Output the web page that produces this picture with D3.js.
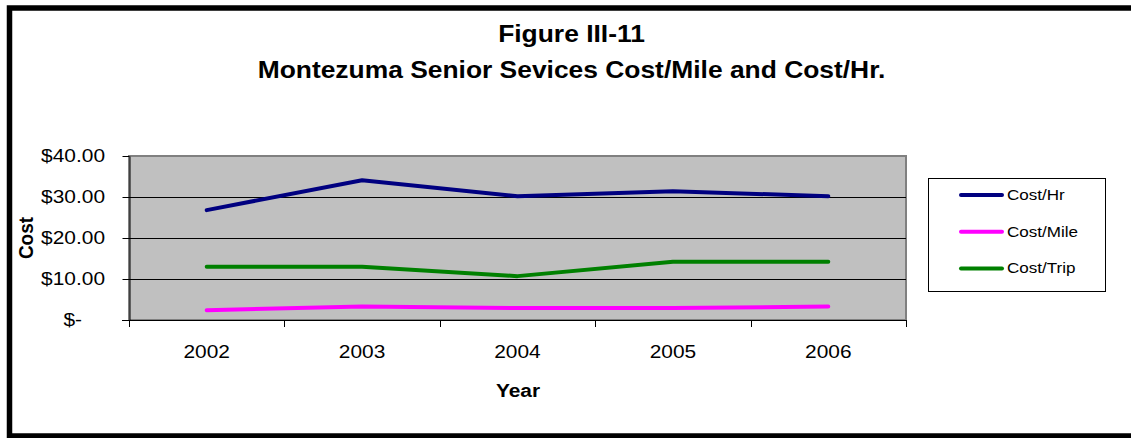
<!DOCTYPE html>
<html>
<head>
<meta charset="utf-8">
<script src="https://cdn.jsdelivr.net/npm/d3@7"></script>
<style>
  html, body { margin: 0; padding: 0; background: #fff; }
  svg { display: block; font-family: Arial, "Liberation Sans", sans-serif; }
</style>
</head>
<body>
<svg id="chart" width="1131" height="438"></svg>
<script>
// Chart data
const years = ["2002", "2003", "2004", "2005", "2006"];
const costPerHour = [26.8, 34.1, 30.2, 31.4, 30.2];
const costPerMile = [2.4, 3.3, 2.9, 2.9, 3.3];
const costPerTrip = [13.0, 13.0, 10.7, 14.2, 14.2];
const yTicks = [0, 10, 20, 30, 40];
const seriesNames = ["Cost/Hr", "Cost/Mile", "Cost/Trip"];
const seriesColors = ["#000080", "#FF00FF", "#008000"];
const titleLines = ["Figure III-11", "Montezuma Senior Sevices Cost/Mile and Cost/Hr."];

const series = [costPerHour, costPerMile, costPerTrip].map((values, i) => ({
  name: seriesNames[i],
  color: seriesColors[i],
  values: values.map((v, j) => ({ year: years[j], value: v }))
}));

const svg = d3.select("#chart");
const STRETCH = 1.1; // text glyphs are drawn slightly wide

// Helper: text placed at (x,y) with a horizontal stretch
function label(parent, x, y, str, opts = {}) {
  const g = parent.append("g")
    .attr("transform", `translate(${x},${y}) scale(${STRETCH},1)` + (opts.rotate ? ` rotate(${opts.rotate})` : ""));
  return g.append("text")
    .attr("text-anchor", opts.anchor || "start")
    .attr("dominant-baseline", opts.baseline || "auto")
    .attr("font-size", opts.size || 19)
    .attr("font-weight", opts.bold ? "bold" : "normal")
    .attr("fill", "#000")
    .text(str);
}

// Outer frame
svg.append("rect")
  .attr("x", 9.5).attr("y", 8)
  .attr("width", 1140).attr("height", 428)
  .attr("fill", "none").attr("stroke", "#000").attr("stroke-width", 5.5);

// Plot area
const plot = { left: 129, top: 156, right: 906, bottom: 320 };

const x = d3.scaleBand().domain(years).range([plot.left, plot.right]).padding(0);
const y = d3.scaleLinear().domain([0, 40]).range([plot.bottom, plot.top]);

svg.append("rect")
  .attr("x", plot.left).attr("y", plot.top)
  .attr("width", plot.right - plot.left).attr("height", plot.bottom - plot.top)
  .attr("fill", "#C0C0C0").attr("stroke", "#808080").attr("stroke-width", 2);

// Horizontal gridlines
svg.append("g")
  .selectAll("line")
  .data(yTicks.filter(t => t > 0 && t < 40))
  .join("line")
  .attr("x1", plot.left).attr("x2", plot.right)
  .attr("y1", d => Math.round(y(d)) + 0.5).attr("y2", d => Math.round(y(d)) + 0.5)
  .attr("stroke", "#000").attr("stroke-width", 1);

// Y axis
const yAxis = d3.axisLeft(y).tickValues(yTicks).tickSize(7).tickSizeOuter(0).tickFormat("");
const yAxisG = svg.append("g").attr("transform", `translate(${plot.left + 0.5},0)`).call(yAxis);
yAxisG.select(".domain").attr("stroke", "#000");
yAxisG.selectAll(".tick line").attr("stroke", "#000");

const fmt = v => v === 0 ? "$-" : "$" + d3.format(".2f")(v);
const yLabels = svg.append("g");
yTicks.forEach(t => {
  label(yLabels, t === 0 ? 82 : 105, y(t) + 1, fmt(t), { anchor: "end", baseline: "middle", size: 19 });
});

// X axis with ticks at band edges
const edges = years.map(yr => x(yr)).concat([plot.right]);
const xAxisG = svg.append("g");
xAxisG.append("line")
  .attr("x1", plot.left - 7).attr("x2", plot.right)
  .attr("y1", plot.bottom + 0.5).attr("y2", plot.bottom + 0.5)
  .attr("stroke", "#000");
xAxisG.selectAll("line.tk")
  .data(edges)
  .join("line")
  .attr("class", "tk")
  .attr("x1", d => Math.round(d) + 0.5).attr("x2", d => Math.round(d) + 0.5)
  .attr("y1", plot.bottom).attr("y2", plot.bottom + 7)
  .attr("stroke", "#000");

const xLabels = svg.append("g");
years.forEach(yr => {
  label(xLabels, x(yr) + x.bandwidth() / 2, 358, yr, { anchor: "middle", size: 19 });
});

// Axis titles
label(svg, 518, 397, "Year", { anchor: "middle", size: 19, bold: true });
label(svg, 33, 238, "Cost", { anchor: "middle", size: 19, bold: true, rotate: -90 });

// Series lines
const line = d3.line()
  .x(d => x(d.year) + x.bandwidth() / 2)
  .y(d => y(d.value));

svg.append("g")
  .selectAll("path")
  .data(series)
  .join("path")
  .attr("d", d => line(d.values))
  .attr("fill", "none")
  .attr("stroke", d => d.color)
  .attr("stroke-width", 4)
  .attr("stroke-linecap", "round")
  .attr("stroke-linejoin", "round");

// Title
label(svg, 571.5, 41.5, titleLines[0], { anchor: "middle", size: 24, bold: true });
label(svg, 571.5, 78, titleLines[1], { anchor: "middle", size: 24, bold: true });

// Legend
const legend = svg.append("g");
legend.append("rect")
  .attr("x", 928.5).attr("y", 178.5)
  .attr("width", 177).attr("height", 113)
  .attr("fill", "#fff").attr("stroke", "#000").attr("stroke-width", 1);

series.forEach((s, i) => {
  const cy = 195 + i * 36.7;
  legend.append("line")
    .attr("x1", 961).attr("x2", 1002)
    .attr("y1", cy).attr("y2", cy)
    .attr("stroke", s.color).attr("stroke-width", 4)
    .attr("stroke-linecap", "round");
  label(legend, 1007, cy + 1, s.name, { baseline: "middle", size: 15.5 });
});
</script>
</body>
</html>
